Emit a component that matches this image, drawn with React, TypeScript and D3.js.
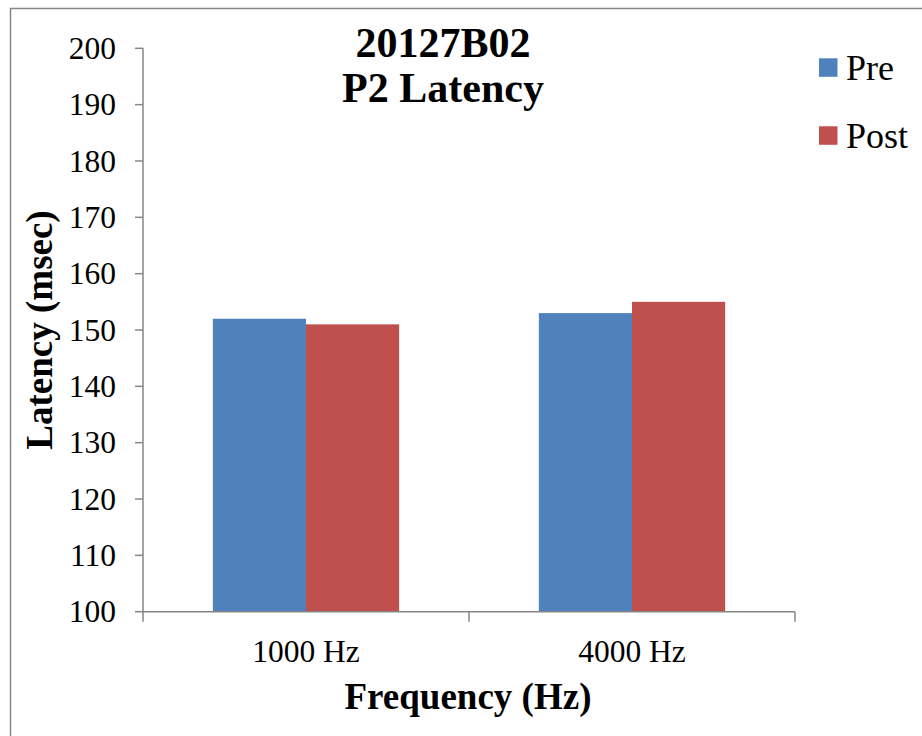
import React from "react";
import * as d3 from "d3";

const categories = ["1000 Hz", "4000 Hz"];
const seriesNames = ["Pre", "Post"];
const preValues = [152, 153];
const postValues = [151, 155];
const yTicks = [100, 110, 120, 130, 140, 150, 160, 170, 180, 190, 200];
const colors = ["#4F81BD", "#C0504D"];
const titleLines = ["20127B02", "P2 Latency"];

export default function App() {
  const W = 922, H = 736;
  const left = 143, right = 795, top = 48.3, bottom = 611.7;
  const x = d3.scaleBand<string>().domain(categories).range([left, right]).paddingInner(0).paddingOuter(0);
  const y = d3.scaleLinear().domain([100, 200]).range([bottom, top]);
  const gapRatio = 1.5;
  const bw = x.bandwidth() / (2 + gapRatio);
  const series = [preValues, postValues];
  const font = "'Times New Roman', 'Liberation Serif', serif";
  const axisColor = "#868686";

  return (
    <svg width={W} height={H} style={{ position: "absolute", left: 0, top: 0, background: "#fff" }} fontFamily={font}>
      <rect x={10.5} y={8.5} width={1000} height={1000} fill="#fff" stroke={axisColor} strokeWidth={1.5} />
      {/* bars */}
      {categories.map((c, ci) =>
        series.map((vals, si) => {
          const x0 = (x(c) as number) + x.bandwidth() / 2 - bw + si * bw;
          return (
            <rect key={c + si} x={x0} y={y(vals[ci])} width={bw} height={y(100) - y(vals[ci])} fill={colors[si]} />
          );
        })
      )}
      {/* y axis */}
      <line x1={left} x2={left} y1={top} y2={bottom} stroke={axisColor} strokeWidth={1.5} />
      {yTicks.map((t) => (
        <g key={t}>
          <line x1={left - 8} x2={left} y1={y(t)} y2={y(t)} stroke={axisColor} strokeWidth={1.5} />
          <text x={116} y={y(t)} dy="0.34em" textAnchor="end" fontSize={31.5} fontFamily={font} fill="#000">{t}</text>
        </g>
      ))}
      {/* x axis */}
      <line x1={left} x2={right} y1={bottom} y2={bottom} stroke={axisColor} strokeWidth={1.5} />
      {[...categories.map((c) => x(c) as number), right].map((p, i) => (
        <line key={i} x1={p} x2={p} y1={bottom} y2={bottom + 10} stroke={axisColor} strokeWidth={1.5} />
      ))}
      {categories.map((c) => (
        <text key={c} x={(x(c) as number) + x.bandwidth() / 2} y={662} textAnchor="middle" fontSize={31.5} fontFamily={font} fill="#000">{c}</text>
      ))}
      {/* titles */}
      {titleLines.map((t, i) => (
        <text key={t} x={443} y={57 + i * 45} textAnchor="middle" fontSize={42} fontWeight="bold" fontFamily={font} fill="#000">{t}</text>
      ))}
      <text x={468} y={709} textAnchor="middle" fontSize={37} fontWeight="bold" fontFamily={font} fill="#000">Frequency (Hz)</text>
      <text transform={`translate(52, ${(top + bottom) / 2}) rotate(-90)`} textAnchor="middle" fontSize={37} fontWeight="bold" fontFamily={font} fill="#000">Latency (msec)</text>
      {/* legend */}
      {seriesNames.map((n, i) => (
        <g key={n}>
          <rect x={819} y={58.3 + i * 68} width={18.5} height={18.5} fill={colors[i]} />
          <text x={846} y={80 + i * 68} fontSize={36} fontFamily={font} fill="#000">{n}</text>
        </g>
      ))}
    </svg>
  );
}
